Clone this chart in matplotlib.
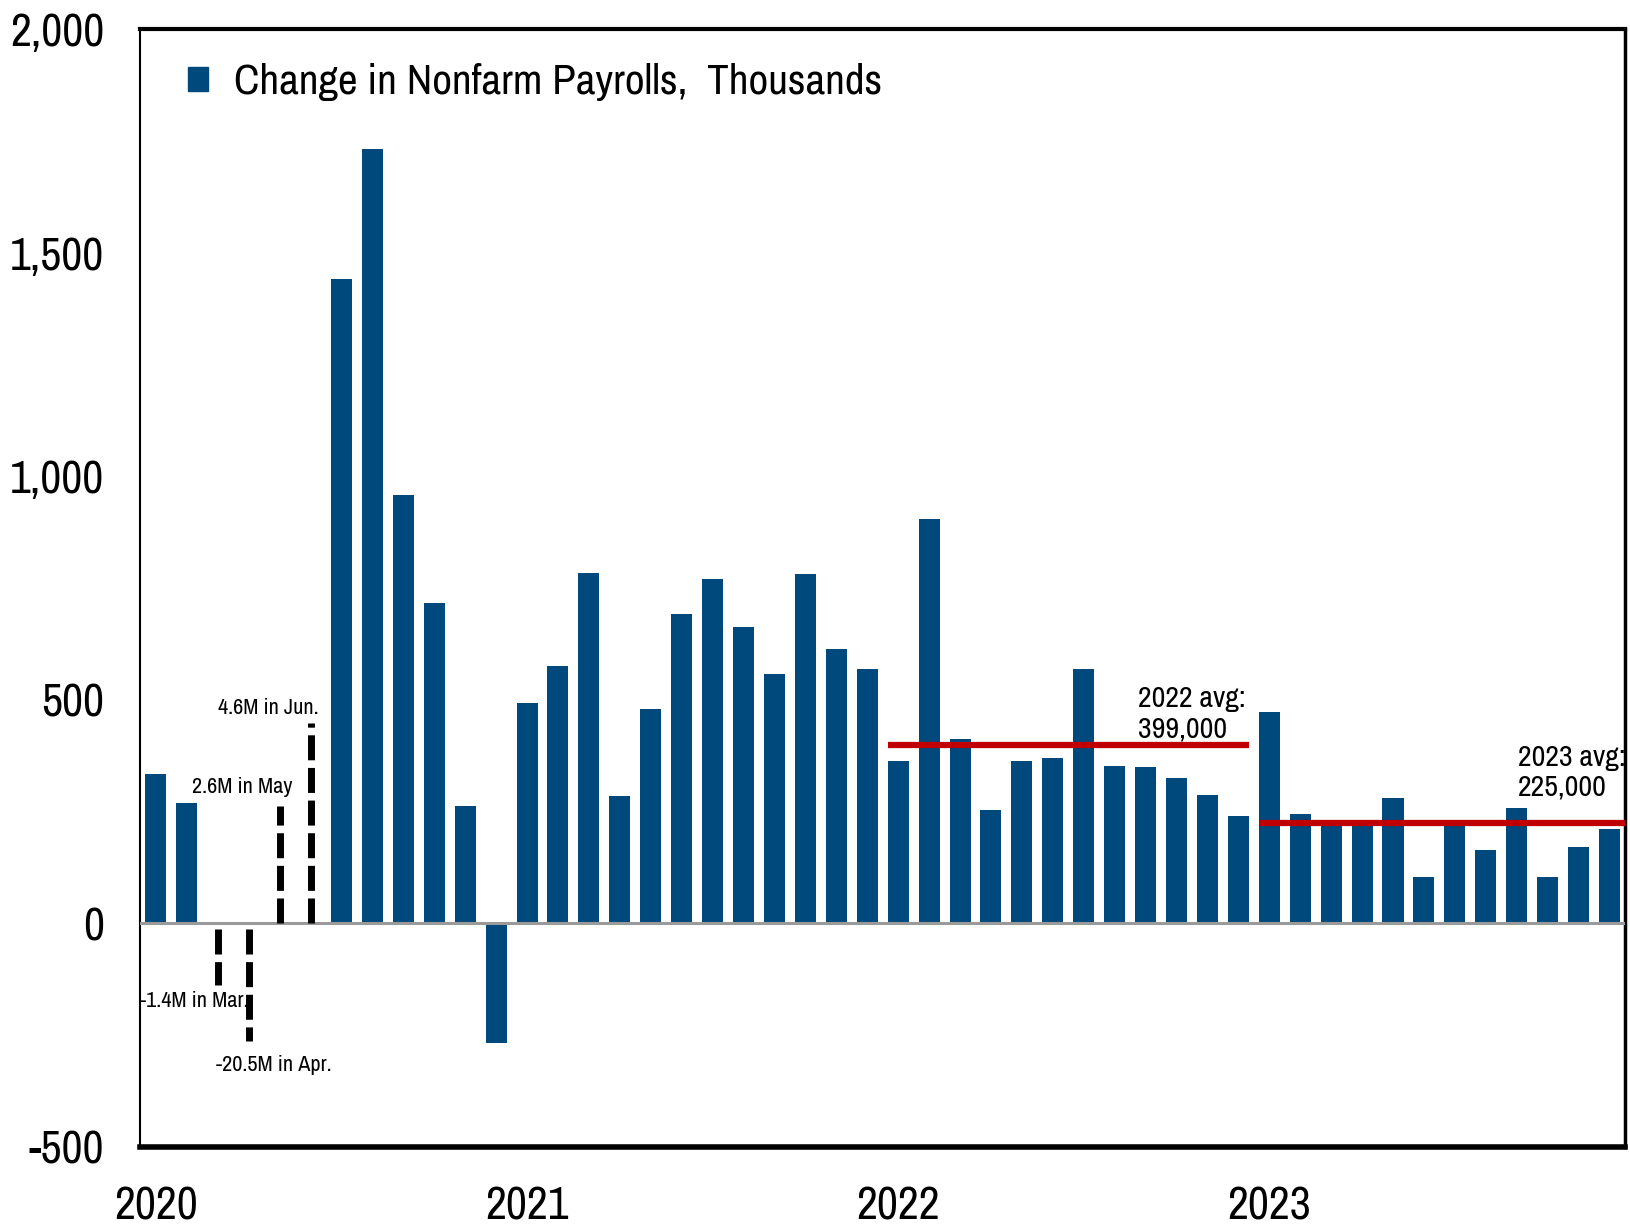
import numpy as np
import matplotlib.pyplot as plt
from matplotlib.patches import Patch
from matplotlib.ticker import FuncFormatter

plt.rcParams["font.family"] = ["Archivo Narrow", "Open Sans Condensed", "Liberation Sans"]

# monthly change in nonfarm payrolls, thousands (Jan 2020 - Dec 2023)
years = [2020, 2021, 2022, 2023]
payrolls_2020 = [333, 270, np.nan, np.nan, np.nan, np.nan, 1442, 1731, 958, 716, 263, -268]
payrolls_2021 = [493, 575, 784, 284, 479, 691, 770, 663, 558, 782, 614, 568]
payrolls_2022 = [363, 905, 412, 254, 363, 370, 568, 351, 349, 326, 288, 240]
payrolls_2023 = [472, 244, 230, 228, 281, 104, 232, 163, 259, 104, 171, 212]

# spring 2020 months are off the scale: drawn as short dashed stubs with labels
off_scale_month = [2, 3, 4, 5]
off_scale_stub = [-137, -264, 262, 448]
off_scale_label = ["-1.4M in Mar.", "-20.5M in Apr.", "2.6M in May", "4.6M in Jun."]

avg_years = [2022, 2023]
avg_values = [399, 225]
avg_labels = ["2022 avg:\n399,000", "2023 avg:\n225,000"]

BLUE = "#00497c"
RED = "#c00000"

values = np.array(payrolls_2020 + payrolls_2021 + payrolls_2022 + payrolls_2023, dtype=float)
x = np.arange(len(values))

fig = plt.figure(figsize=(16.31, 12.25), dpi=100)
ax = fig.add_axes([0.0861, 0.0637, 0.9102, 0.9126])

ax.bar(x, np.nan_to_num(values), width=0.68, color=BLUE, zorder=2)
ax.axhline(0, color="#9a9a9a", lw=2.2, zorder=3)

for m, v in zip(off_scale_month, off_scale_stub):
    start = -12 if v < 0 else 0
    ax.plot([m, m], [start, v], color="black", lw=5, ls=(0, (3.6, 1.1)),
            solid_capstyle="butt", dash_capstyle="butt", zorder=4)

label_spots = [(1.24, -174), (3.80, -316), (2.78, 306), (3.64, 482)]
for (tx, ty), txt in zip(label_spots, off_scale_label):
    ax.text(tx, ty, txt, ha="center", va="center", fontsize=16, zorder=5)

# yearly averages as red lines across each year's bars
for yr, avg in zip(avg_years, avg_values):
    i0 = years.index(yr) * 12
    x1 = i0 + 11 + 0.34 if yr != years[-1] else len(values) - 0.45
    ax.plot([i0 - 0.34, x1], [avg, avg], color=RED, lw=4.5, zorder=4,
            solid_capstyle="butt")

ax.text(31.77, 468, avg_labels[0], ha="left", va="center", fontsize=21.5,
        linespacing=1.15, zorder=5)
ax.text(44.04, 338, avg_labels[1], ha="left", va="center", fontsize=21.5,
        linespacing=1.15, zorder=5)

ax.set_xlim(-0.5, len(values) - 0.5)
ax.set_ylim(-500, 2000)
ax.set_yticks(np.arange(-500, 2001, 500))
ax.yaxis.set_major_formatter(FuncFormatter(lambda v, p: f"{v:,.0f}"))
ax.set_xticks([i * 12 for i in range(len(years))])
ax.set_xticklabels([str(y) for y in years])
ax.tick_params(axis="y", length=0, pad=26, labelsize=33)
ax.tick_params(axis="x", length=0, pad=28, labelsize=33)

for side, lw in [("top", 3), ("bottom", 4), ("right", 2.5), ("left", 1.5)]:
    ax.spines[side].set_linewidth(lw)
    ax.spines[side].set_color("black")

ax.legend(handles=[Patch(color=BLUE, label="Change in Nonfarm Payrolls,  Thousands")],
          loc="upper left", bbox_to_anchor=(0.006, 1.004), frameon=False,
          fontsize=31, handlelength=0.47, handleheight=0.47, handletextpad=0.6)

fig.savefig("out.png", dpi=100)
